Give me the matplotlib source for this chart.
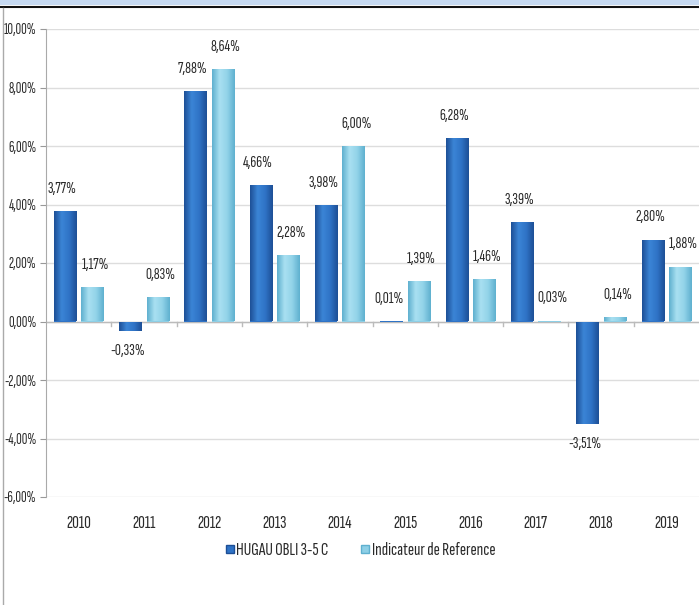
import numpy as np
import matplotlib
matplotlib.use("Agg")
import matplotlib.pyplot as plt
from matplotlib.patches import Rectangle
from matplotlib.lines import Line2D
from matplotlib.colors import LinearSegmentedColormap

plt.rcParams['font.family'] = ['Sofia Sans Extra Condensed', 'DejaVu Sans']

years = ['2010', '2011', '2012', '2013', '2014', '2015', '2016', '2017', '2018', '2019']
fund = [3.77, -0.33, 7.88, 4.66, 3.98, 0.01, 6.28, 3.39, -3.51, 2.80]
index_ref = [1.17, 0.83, 8.64, 2.28, 6.00, 1.39, 1.46, 0.03, 0.14, 1.88]
series_names = ['HUGAU OBLI 3-5 C', 'Indicateur de Reference']

dark = '#2f73c6'
light = '#8dcfe6'
dark_cmap = LinearSegmentedColormap.from_list('d', ['#1d4f96', '#3b85d6', '#2f73c6', '#1d4f96'])
light_cmap = LinearSegmentedColormap.from_list('l', ['#5fb0cf', '#a9e0f1', '#92d3e9', '#5fb0cf'])
txt_color = '#2a2a2a'


def pct(v):
    return f"{v:.2f}%".replace('.', ',')


fig = plt.figure(figsize=(6.99, 6.05), dpi=100)
ax = fig.add_axes([46 / 699, 1 - 497 / 605, 653 / 699, 468 / 605])

x = np.arange(len(years))
w = 0.34
off = 0.21
b1 = ax.bar(x - off, fund, w, color=dark, edgecolor='none', zorder=3)
b2 = ax.bar(x + off, index_ref, w, color=light, edgecolor='none', zorder=3)

# horizontal shading to mimic the bevelled bars
grad = np.linspace(0, 1, 64).reshape(1, -1)
for bars, cmap in ((b1, dark_cmap), (b2, light_cmap)):
    for rect in bars:
        x0, y0 = rect.get_x(), rect.get_y()
        x1, y1 = x0 + rect.get_width(), y0 + rect.get_height()
        im = ax.imshow(grad, extent=[x0, x1, min(y0, y1), max(y0, y1)], aspect='auto',
                       cmap=cmap, zorder=3.5, interpolation='bicubic')
        im.set_clip_path(rect)

# data labels
for bars, vals, dx in ((b1, fund, -0.04), (b2, index_ref, 0.04)):
    for rect, v in zip(bars, vals):
        cx = rect.get_x() + rect.get_width() / 2 + dx
        if v >= 0:
            ax.annotate(pct(v), (cx, v), xytext=(0, 11), textcoords='offset points',
                        ha='center', va='bottom', fontsize=12, color=txt_color)
        else:
            ax.annotate(pct(v), (cx, v), xytext=(0, -9), textcoords='offset points',
                        ha='center', va='top', fontsize=12, color=txt_color)

ax.set_xlim(-0.5, len(years) - 0.5)
ax.set_ylim(-6, 10)
ax.set_yticks(np.arange(-6, 11, 2))
ax.set_yticklabels([pct(t) for t in np.arange(-6, 11, 2)], fontsize=11, color=txt_color)
ax.set_xticks(x)
ax.set_xticklabels(years, fontsize=13.5, color=txt_color)
ax.tick_params(axis='x', length=0, pad=13)
ax.tick_params(axis='y', length=4, color='#999999', pad=3)

ax.grid(axis='y', color='#dddddd', linewidth=1, zorder=0)
for side in ('top', 'right', 'bottom'):
    ax.spines[side].set_visible(False)
ax.spines['left'].set_color('#aaaaaa')

# category axis at zero
ax.axhline(0, color='#bbbbbb', linewidth=1, zorder=2)
for b in x[:-1] + 0.5:
    ax.plot([b, b], [0, -0.15], color='#bbbbbb', linewidth=1, zorder=2)

handles = [Line2D([], [], linestyle='none', marker='s', markersize=6,
                  markerfacecolor=dark, markeredgecolor='#1d4f96'),
           Line2D([], [], linestyle='none', marker='s', markersize=6,
                  markerfacecolor=light, markeredgecolor='#5fb0cf')]
leg = fig.legend(handles, series_names, loc='center', bbox_to_anchor=(360 / 699, 1 - 550 / 605),
                 ncol=2, frameon=False, fontsize=13.5, handlelength=0.5,
                 handletextpad=0.1, columnspacing=1.7)
for t in leg.get_texts():
    t.set_color(txt_color)

# frame decorations
fig.patches.append(Rectangle((0, 1 - 5 / 605), 1, 5 / 605, transform=fig.transFigure,
                             facecolor='#c6d9f1', edgecolor='none'))
fig.lines.append(Line2D([0, 1], [1 - 6.5 / 605, 1 - 6.5 / 605], transform=fig.transFigure,
                        color='#111111', linewidth=1.5))
fig.lines.append(Line2D([3 / 699, 3 / 699], [0, 1 - 8 / 605], transform=fig.transFigure,
                        color='#aaaaaa', linewidth=1))

fig.savefig('out.png', dpi=100)
